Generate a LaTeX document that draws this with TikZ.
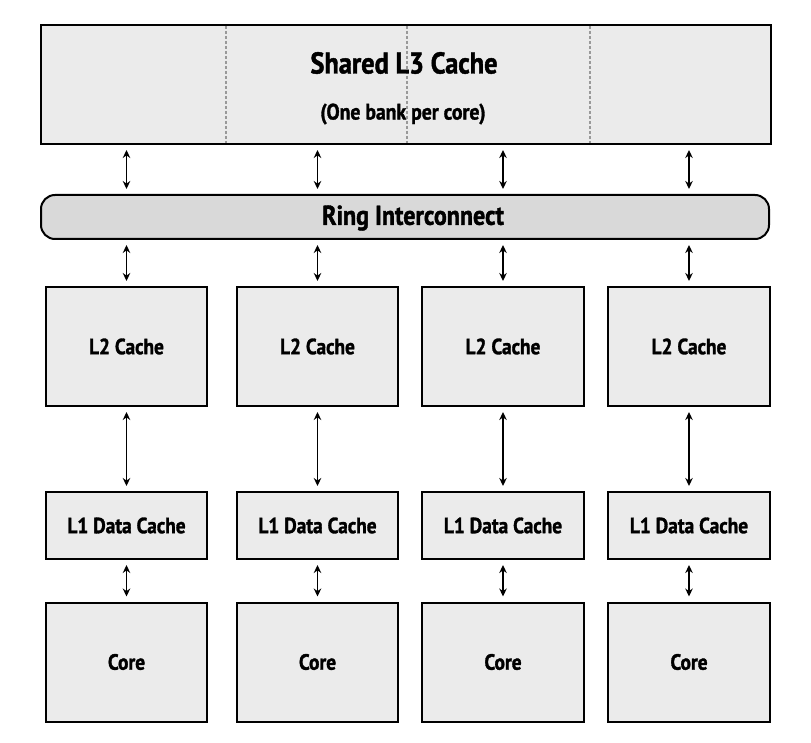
\documentclass[tikz,border=0pt]{standalone}
\usepackage{fontspec}
\setmainfont[FakeStretch=0.88,BoldFeatures={FakeBold=1.4}]{PT Sans}
\usetikzlibrary{arrows.meta}
\definecolor{boxfill}{HTML}{EBEBEB}
\definecolor{ringfill}{HTML}{D9D9D9}
\begin{document}
\begin{tikzpicture}[x=1pt,y=-1pt,
  cbox/.style={draw=black,line width=2pt,fill=boxfill,inner sep=0pt,font=\bfseries\fontsize{22}{25}\selectfont},
  arr/.style={line width=1.9pt,{Stealth[length=8pt,width=7.5pt]}-{Stealth[length=8pt,width=7.5pt]},shorten <=5pt,shorten >=5pt},
  lbl/.style={inner sep=0pt,font=\bfseries}]
\useasboundingbox (0,0) rectangle (811,743);
% L3
\node[cbox,minimum width=730pt,minimum height=119pt] (l3) at (406,84.5) {};
\foreach \xx in {226,407,590}
  \draw[gray!80,line width=1.3pt,dash pattern=on 3pt off 2pt] (\xx,26) -- (\xx,143);
\node[lbl,font=\bfseries\fontsize{30}{32}\selectfont] (t1) at (404,63) {Shared L3 Cache};
\node[lbl,font=\bfseries\fontsize{22.4}{25}\selectfont] (t2) at (403,114) {(One bank per core)};
% ring
\node[cbox,fill=ringfill,rounded corners=14pt,minimum width=728pt,minimum height=44pt] (ring) at (405,217) {};
\node[lbl,font=\bfseries\fontsize{27.3}{29}\selectfont] (rt) at (413,218) {Ring Interconnect};
% columns
\foreach \i/\cx/\w in {a/126.5/161,b/317.5/161,c/503/162,d/689/162}{
  \node[cbox,minimum width=\w pt,minimum height=119pt] (l2\i) at (\cx,346.5) {L2 Cache};
  \node[cbox,minimum width=\w pt,minimum height=67pt] (l1\i) at (\cx,525.5) {L1 Data Cache};
  \node[cbox,minimum width=\w pt,minimum height=119pt] (core\i) at (\cx,662) {Core};
  \draw[arr] (l3.south -| l2\i.north) -- (ring.north -| l2\i.north);
  \draw[arr] (ring.south -| l2\i.north) -- (l2\i.north);
  \draw[arr] (l2\i.south) -- (l1\i.north);
  \draw[arr] (l1\i.south) -- (core\i.north);
}
\end{tikzpicture}
\end{document}
